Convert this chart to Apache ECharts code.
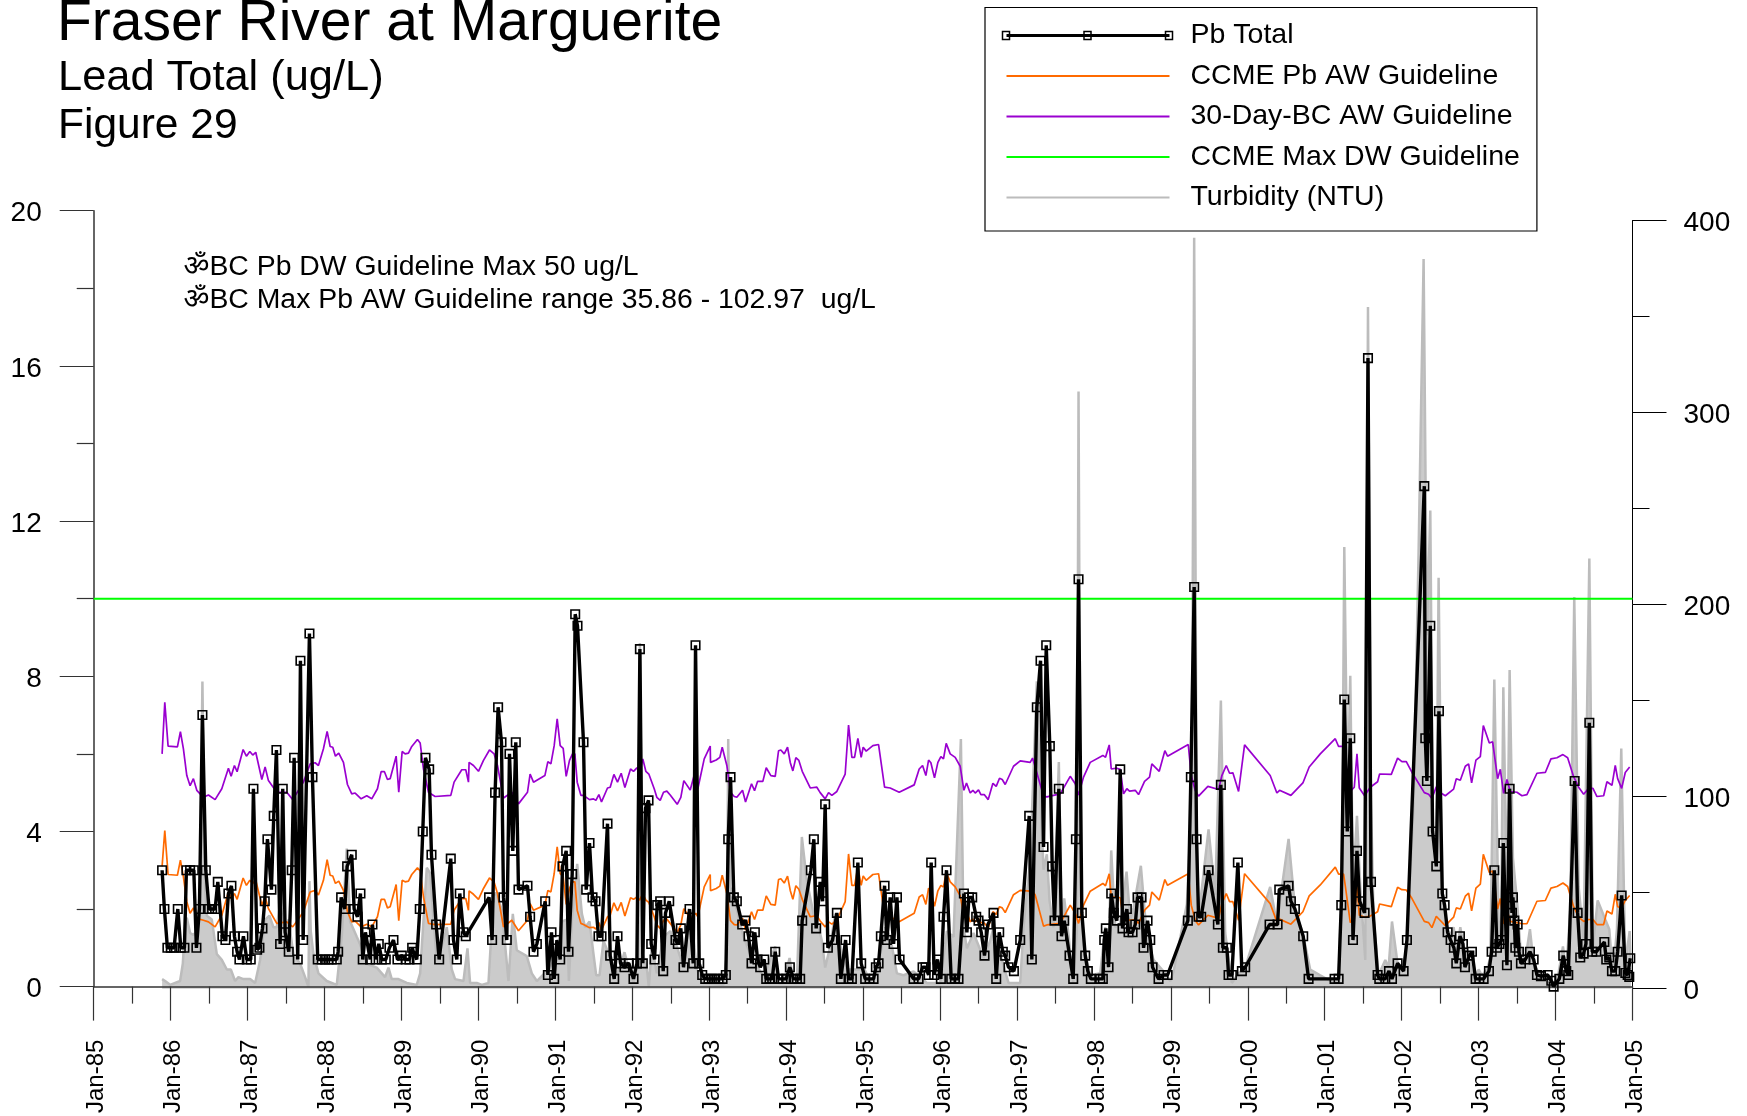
<!DOCTYPE html>
<html><head><meta charset="utf-8">
<style>html,body{margin:0;padding:0;background:#fff}#c{width:1747px;height:1116px}</style>
<script src="https://cdn.jsdelivr.net/npm/echarts@6/dist/echarts.min.js"></script>
</head><body><div id="c"></div>
<script>
const titleMain = 'Fraser River at Marguerite';
const titleSub = 'Lead Total (ug/L)';
const titleFig = 'Figure 29';
const noteDw = 'ॐBC Pb DW Guideline Max 50 ug/L';
const noteAw = 'ॐBC Max Pb AW Guideline range 35.86 - 102.97  ug/L';
const xTickLabels = ['Jan-85','Jan-86','Jan-87','Jan-88','Jan-89','Jan-90','Jan-91','Jan-92','Jan-93','Jan-94','Jan-95','Jan-96','Jan-97','Jan-98','Jan-99','Jan-00','Jan-01','Jan-02','Jan-03','Jan-04','Jan-05'];

// [decimal year, Pb ug/L]
const pbTotal = [[1985.889,3],[1985.919,2],[1985.958,1],[1986.002,1],[1986.045,1],[1986.093,2],[1986.132,1],[1986.179,1],[1986.205,3],[1986.253,3],[1986.301,3],[1986.335,1],[1986.374,2],[1986.413,7],[1986.457,3],[1986.5,2],[1986.539,2],[1986.578,2],[1986.613,2.7],[1986.673,1.3],[1986.712,1.2],[1986.751,2.4],[1986.79,2.6],[1986.829,1.3],[1986.864,.9],[1986.894,.7],[1986.946,1.3],[1986.99,.7],[1987.041,.7],[1987.076,5.1],[1987.124,.95],[1987.154,1],[1987.193,1.5],[1987.223,2.2],[1987.258,3.8],[1987.31,2.5],[1987.34,4.4],[1987.375,6.1],[1987.423,1.1],[1987.457,5.1],[1987.488,1.4],[1987.535,.9],[1987.574,3],[1987.605,5.9],[1987.652,.7],[1987.687,8.4],[1987.722,1.2],[1987.804,9.1],[1987.843,5.4],[1987.912,.7],[1987.964,.7],[1988.008,.7],[1988.051,.7],[1988.094,.7],[1988.159,.7],[1988.177,.9],[1988.216,2.3],[1988.263,2],[1988.294,3.1],[1988.354,3.4],[1988.385,2],[1988.428,1.8],[1988.467,2.4],[1988.497,.7],[1988.532,1.4],[1988.549,1.2],[1988.593,.7],[1988.623,1.6],[1988.665,.7],[1988.705,1.1],[1988.744,.7],[1988.796,.7],[1988.844,1],[1988.896,1.2],[1988.948,.7],[1989.004,.8],[1989.056,.7],[1989.104,.7],[1989.139,1],[1989.156,.9],[1989.199,.7],[1989.238,2],[1989.277,4],[1989.312,5.9],[1989.36,5.6],[1989.39,3.4],[1989.451,1.6],[1989.49,.7],[1989.641,3.3],[1989.676,1.2],[1989.719,.7],[1989.758,2.4],[1989.806,1.4],[1989.836,1.3],[1990.139,2.3],[1990.178,1.2],[1990.217,5],[1990.256,7.2],[1990.3,6.3],[1990.326,2.3],[1990.369,1.2],[1990.404,6],[1990.447,3.5],[1990.486,6.3],[1990.521,2.5],[1990.638,2.6],[1990.672,1.8],[1990.716,.9],[1990.76,1.1],[1990.868,2.2],[1990.903,.3],[1990.95,1.4],[1990.985,.2],[1991.02,1.2],[1991.063,.7],[1991.093,3.1],[1991.141,3.5],[1991.171,.9],[1991.219,2.9],[1991.258,9.6],[1991.288,9.3],[1991.366,6.3],[1991.401,2.5],[1991.444,3.7],[1991.483,2.3],[1991.522,2.2],[1991.561,1.3],[1991.6,1.3],[1991.678,4.2],[1991.713,.8],[1991.765,.2],[1991.808,1.3],[1991.847,.6],[1991.899,.5],[1991.955,.6],[1992.016,.2],[1992.06,.6],[1992.099,8.7],[1992.137,.6],[1992.172,4.6],[1992.211,4.8],[1992.246,1.1],[1992.289,.7],[1992.324,2.1],[1992.363,2.2],[1992.402,.4],[1992.432,1.9],[1992.48,2.2],[1992.562,1.2],[1992.592,1.1],[1992.631,1.5],[1992.666,.5],[1992.744,2],[1992.792,.6],[1992.822,8.8],[1992.87,.6],[1992.909,.3],[1992.948,.2],[1992.991,.2],[1993.034,.2],[1993.078,.2],[1993.121,.2],[1993.173,.2],[1993.216,.3],[1993.247,3.8],[1993.277,5.4],[1993.32,2.3],[1993.359,2.2],[1993.429,1.6],[1993.472,1.7],[1993.511,1.3],[1993.55,.6],[1993.593,1.4],[1993.628,.7],[1993.663,.5],[1993.715,.7],[1993.741,.2],[1993.784,.2],[1993.819,.2],[1993.858,.9],[1993.901,.2],[1993.953,.2],[1994,.2],[1994.048,.5],[1994.096,.2],[1994.139,.2],[1994.182,.2],[1994.208,1.7],[1994.321,3],[1994.36,3.8],[1994.39,1.5],[1994.442,2.7],[1994.473,2.2],[1994.507,4.7],[1994.542,1],[1994.603,1.2],[1994.659,1.9],[1994.711,.2],[1994.772,1.2],[1994.811,.2],[1994.854,.2],[1994.932,3.2],[1994.975,.6],[1995.027,.2],[1995.084,.2],[1995.136,.2],[1995.166,.5],[1995.201,.6],[1995.231,1.3],[1995.279,2.6],[1995.309,1.2],[1995.352,2.3],[1995.396,1.1],[1995.44,2.3],[1995.474,.7],[1995.656,.2],[1995.721,.2],[1995.773,.5],[1995.811,.5],[1995.851,.3],[1995.885,3.2],[1995.924,.3],[1995.967,.7],[1996.011,.2],[1996.045,1.8],[1996.084,3],[1996.145,.2],[1996.193,.2],[1996.24,.2],[1996.31,2.4],[1996.349,1.4],[1996.375,2.3],[1996.418,2.3],[1996.47,1.8],[1996.5,1.7],[1996.535,1.4],[1996.578,.8],[1996.622,1.6],[1996.695,1.9],[1996.73,.2],[1996.769,1.4],[1996.816,.9],[1996.847,.8],[1996.89,.5],[1996.96,.4],[1997.042,1.2],[1997.159,4.4],[1997.193,.7],[1997.258,7.2],[1997.306,8.4],[1997.345,3.6],[1997.38,8.8],[1997.427,6.2],[1997.458,3.1],[1997.488,1.7],[1997.544,5.1],[1997.579,1.3],[1997.614,1.7],[1997.683,.8],[1997.731,.2],[1997.766,3.8],[1997.8,10.5],[1997.843,1.9],[1997.887,.8],[1997.921,.4],[1997.96,.2],[1998.082,.2],[1998.116,.2],[1998.134,1.2],[1998.155,1.5],[1998.19,.5],[1998.225,2.4],[1998.259,1.9],[1998.298,1.7],[1998.342,5.6],[1998.372,1.5],[1998.428,2],[1998.45,1.4],[1998.502,1.4],[1998.537,1.6],[1998.567,2.3],[1998.619,2.3],[1998.645,1],[1998.697,1.7],[1998.732,1.2],[1998.762,.5],[1998.84,.2],[1998.905,.3],[1998.957,.3],[1999.221,1.7],[1999.26,5.4],[1999.303,10.3],[1999.334,3.8],[1999.36,1.8],[1999.394,1.8],[1999.49,3],[1999.611,1.6],[1999.65,5.2],[1999.676,1],[1999.728,1],[1999.75,.3],[1999.793,.3],[1999.871,3.2],[1999.923,.4],[1999.966,.5],[2000.283,1.6],[2000.387,1.6],[2000.409,2.5],[2000.53,2.6],[2000.56,2.2],[2000.612,2],[2000.72,1.3],[2000.79,.2],[2001.128,.2],[2001.18,.2],[2001.215,2.1],[2001.254,7.4],[2001.293,4],[2001.332,6.4],[2001.367,1.2],[2001.419,3.5],[2001.453,2.2],[2001.518,1.9],[2001.562,16.2],[2001.601,2.7],[2001.687,.3],[2001.709,.2],[2001.787,.2],[2001.835,.4],[2001.874,.2],[2001.947,.6],[2002.025,.4],[2002.068,1.2],[2002.294,12.9],[2002.307,6.4],[2002.328,5.3],[2002.372,9.3],[2002.402,4],[2002.45,3.1],[2002.484,7.1],[2002.528,2.4],[2002.558,2.1],[2002.597,1.4],[2002.636,1.2],[2002.679,1],[2002.71,.6],[2002.757,1.3],[2002.796,1.1],[2002.822,.5],[2002.879,.8],[2002.913,.9],[2002.961,.2],[2003.009,.2],[2003.065,.2],[2003.134,.4],[2003.169,.9],[2003.204,3],[2003.238,1],[2003.269,1.1],[2003.299,1.2],[2003.321,3.7],[2003.368,.55],[2003.403,5.1],[2003.433,1.9],[2003.446,2.3],[2003.464,1.7],[2003.477,1],[2003.507,1.6],[2003.524,.9],[2003.55,.6],[2003.607,.7],[2003.667,.9],[2003.715,.7],[2003.758,.3],[2003.81,.27],[2003.897,.3],[2003.945,.15],[2003.975,0],[2004.049,.2],[2004.1,.8],[2004.139,.4],[2004.165,.3],[2004.248,5.3],[2004.287,1.9],[2004.321,.75],[2004.365,.85],[2004.395,1.1],[2004.439,6.8],[2004.477,.9],[2004.53,.9],[2004.634,1.15],[2004.659,.7],[2004.698,.75],[2004.733,.4],[2004.776,.4],[2004.807,.9],[2004.859,2.35],[2004.907,.35],[2004.937,.3],[2004.958,.25],[2004.971,.73]];

// shared sample dates of the two hardness-based guidelines
const guideYears = [1985.889,1985.924,1985.967,1986.088,1986.127,1986.166,1986.21,1986.253,1986.296,1986.34,1986.426,1986.491,1986.578,1986.665,1986.751,1986.786,1986.829,1986.864,1986.942,1986.985,1987.029,1987.067,1987.106,1987.185,1987.228,1987.271,1987.379,1987.509,1987.587,1987.726,1987.813,1987.878,1987.921,1987.986,1988.034,1988.073,1988.107,1988.142,1988.185,1988.246,1988.298,1988.354,1988.398,1988.476,1988.549,1988.614,1988.688,1988.736,1988.779,1988.818,1988.853,1988.931,1988.965,1989.009,1989.047,1989.091,1989.134,1989.208,1989.243,1989.286,1989.351,1989.437,1989.641,1989.684,1989.784,1989.836,1989.871,1989.879,1989.936,1990.001,1990.066,1990.144,1990.204,1990.248,1990.326,1990.434,1990.521,1990.638,1990.672,1990.716,1990.864,1990.903,1990.942,1990.985,1991.024,1991.063,1991.102,1991.141,1991.184,1991.223,1991.254,1991.284,1991.332,1991.366,1991.444,1991.496,1991.527,1991.566,1991.6,1991.678,1991.713,1991.761,1991.808,1991.856,1991.904,1991.977,1992.016,1992.06,1992.094,1992.137,1992.176,1992.215,1992.285,1992.319,1992.363,1992.406,1992.449,1992.493,1992.584,1992.631,1992.67,1992.753,1992.826,1992.852,1992.935,1993.013,1993.017,1993.091,1993.138,1993.169,1993.229,1993.277,1993.325,1993.359,1993.433,1993.472,1993.55,1993.589,1993.628,1993.697,1993.741,1993.801,1993.858,1993.901,1993.931,1993.975,1994.018,1994.053,1994.087,1994.126,1994.165,1994.209,1994.313,1994.399,1994.442,1994.507,1994.551,1994.594,1994.659,1994.767,1994.811,1994.854,1994.889,1994.932,1994.975,1995.001,1995.04,1995.127,1995.201,1995.279,1995.352,1995.469,1995.664,1995.729,1995.773,1995.816,1995.851,1995.881,1995.928,1995.972,1996.011,1996.045,1996.08,1996.132,1996.197,1996.262,1996.31,1996.344,1996.392,1996.427,1996.457,1996.5,1996.531,1996.574,1996.626,1996.687,1996.73,1996.773,1996.808,1996.847,1996.955,1997.042,1997.172,1997.202,1997.237,1997.345,1997.388,1997.562,1997.692,1997.757,1997.8,1997.865,1997.952,1998.116,1998.151,1998.199,1998.225,1998.298,1998.342,1998.385,1998.428,1998.463,1998.537,1998.58,1998.658,1998.723,1998.753,1998.849,1998.922,1998.957,1999.226,1999.265,1999.316,1999.36,1999.481,1999.62,1999.663,1999.72,1999.763,1999.806,1999.88,1999.958,2000.291,2000.378,2000.413,2000.56,2000.716,2000.798,2000.942,2001.137,2001.18,2001.245,2001.267,2001.332,2001.384,2001.419,2001.449,2001.518,2001.592,2001.687,2001.713,2001.865,2001.947,2002.003,2002.06,2002.134,2002.294,2002.35,2002.393,2002.45,2002.48,2002.567,2002.675,2002.71,2002.762,2002.827,2002.87,2002.909,2002.965,2003.022,2003.061,2003.139,2003.182,2003.247,2003.282,2003.325,2003.368,2003.412,2003.498,2003.563,2003.628,2003.758,2003.867,2003.94,2004.018,2004.096,2004.157,2004.235,2004.3,2004.365,2004.43,2004.486,2004.538,2004.625,2004.668,2004.733,2004.776,2004.807,2004.824,2004.859,2004.906,2004.963];

const bc30Day = [6,7.33,6.2,6.18,6.57,6.13,5.44,5.18,5.36,5.06,4.88,4.94,4.82,5.1,5.63,5.42,5.7,5.54,6.11,5.94,6.06,5.97,6.04,5.34,5.66,5.31,5.01,5.01,4.82,5.27,5.74,5.77,5.7,6.13,6.58,6.19,6.17,5.94,6.02,5.78,5.21,4.97,4.99,4.84,4.92,4.84,5.1,5.54,5.54,5.34,5.36,5.94,5.01,6.06,6,6.02,6.19,6.37,6.28,5.61,5.01,4.9,4.93,5.27,5.59,5.59,5.27,5.78,5.7,5.55,5.83,6.1,6,5.7,4.86,5.01,4.71,5.01,5.48,5.27,5.44,5.8,5.74,6.21,6.9,6.21,6.14,5.42,5.83,6,6,5.27,4.93,4.93,4.82,4.84,4.8,4.95,4.76,5.12,5.14,5.47,5.27,5.5,5.13,5.61,5.55,5.64,5.53,5.87,5.55,5.48,5.1,4.88,4.8,5.01,5.04,4.94,4.7,4.88,5.31,5.07,5.61,5.1,5.87,6.2,5.78,5.84,5.91,6.17,5.7,5.01,4.9,4.88,5.06,4.76,5.23,5.05,5.29,5.29,5.64,5.44,5.42,6.08,6.1,6,6.17,5.78,5.56,5.9,5.83,5.55,5.12,5.14,5,4.84,5,4.93,5.03,5.48,6.74,5.91,5.91,6.4,5.91,6.17,6.07,6.21,6.24,5.14,5.12,5.01,5.2,5.61,5.7,5.44,5.84,5.77,5.38,5.78,5.93,5.87,6.27,6,5.91,5.68,5.06,5.25,4.99,5.06,4.99,5.07,4.95,4.95,4.82,5.24,5.16,5.37,5.34,5.21,5.68,5.82,5.78,5.89,5.66,4.91,4.89,4.97,5.42,5.23,4.94,5.4,5.78,5.96,5.91,6.23,5.61,5.63,5.6,4.97,5.1,5.04,5.06,4.95,5.29,5.4,5.74,5.55,6.08,5.94,6.24,5.44,5.06,4.91,5.16,5.08,5.44,5.7,5.5,5.51,5.03,6.23,5.44,4.99,5.06,4.93,5.25,5.66,6,6.39,6.19,6.19,5.84,5.03,5.14,6,5.12,4.92,5.14,5.28,5.48,5.47,5.89,5.8,5.8,5.52,5,4.96,4.85,5.15,5.03,4.92,5.09,5.36,5.32,5.68,5.74,5.25,5.84,5.93,6.73,6.28,6.31,5.36,5.6,4.98,5.34,5.03,5.01,4.92,4.95,5.5,5.52,5.87,5.9,5.98,5.9,5.41,5.14,4.96,5.11,5.11,4.9,4.92,5.28,5.19,5.7,5.36,5.41,5.11,5.52,5.66];

const ccmeAw = [3.1,4.02,2.89,2.87,3.26,2.83,2.19,1.89,2.03,1.76,1.71,1.67,1.54,1.84,2.44,2.27,2.4,2.25,2.8,2.61,2.74,2.66,2.74,2.1,2.31,2.01,1.63,1.67,1.54,1.93,2.44,2.48,2.36,2.74,3.27,2.87,2.85,2.66,2.72,2.48,1.93,1.67,1.69,1.54,1.61,1.54,1.8,2.25,2.25,2.03,2.06,2.63,1.7,2.74,2.7,2.72,2.89,3.06,2.98,2.31,1.63,1.6,1.61,1.97,2.27,2.27,1.97,2.47,2.38,2.25,2.53,2.8,2.7,2.4,1.54,1.71,1.44,1.71,2.14,1.97,2.1,2.48,2.44,2.91,3.6,2.91,2.83,2.12,2.53,2.7,2.7,1.97,1.63,1.6,1.52,1.53,1.48,1.65,1.46,1.8,1.84,2.16,1.95,2.17,1.82,2.29,2.25,2.31,2.23,2.4,2.23,2.17,1.8,1.59,1.5,1.71,1.74,1.63,1.4,1.59,2.01,1.76,1.89,1.8,2.57,2.89,2.47,2.53,2.59,2.87,2.4,1.7,1.6,1.59,1.76,1.46,1.93,1.73,1.97,1.97,2.34,2.12,2.1,2.76,2.78,2.67,2.85,2.48,2.25,2.6,2.51,2.25,1.8,1.83,1.69,1.54,1.67,1.61,1.71,2.19,3.42,2.61,2.61,3.08,2.61,2.85,2.74,2.89,2.91,1.84,1.8,1.67,1.89,2.31,2.37,2.12,2.54,2.44,2.07,2.47,2.61,2.57,2.96,2.7,2.57,2.34,1.83,1.95,1.67,1.74,1.67,1.76,1.65,1.64,1.52,1.93,1.86,2.06,2.03,1.91,2.37,2.48,2.46,2.46,2.36,1.56,1.59,1.63,2.1,1.89,1.63,2.1,2.46,2.66,2.6,2.91,2.31,2.31,2.29,1.67,1.77,1.71,1.73,1.63,1.97,2.1,2.44,2.23,2.76,2.61,2.91,2.1,1.71,1.59,1.84,1.76,2.14,2.4,2.19,2.19,1.71,2.91,2.14,1.67,1.74,1.61,1.93,2.34,2.62,3.08,2.9,2.9,2.6,1.65,1.79,2.6,1.84,1.79,1.82,1.93,2.13,2.06,2.56,2.5,2.49,2.27,1.68,1.65,1.52,1.81,1.75,1.57,1.79,2.03,2,2.33,2.41,1.95,2.54,2.64,3.41,2.94,2.98,2,2.27,1.62,1.98,1.68,1.65,1.62,1.62,2.2,2.22,2.54,2.58,2.67,2.58,2.06,1.79,1.68,1.73,1.73,1.6,1.6,1.95,1.87,2.38,2.06,2.11,2.03,2.22,2.35];

const ccmeMaxDw = [[1985,10],[2005,10]];

// [decimal year, NTU]
const turbidity = [[1985.889,5],[1985.928,4],[1985.993,2],[1986.123,4],[1986.158,13],[1986.188,33],[1986.21,37],[1986.253,29],[1986.296,28],[1986.34,30],[1986.383,53],[1986.413,160],[1986.448,53],[1986.47,38],[1986.535,36],[1986.6,18],[1986.665,15],[1986.73,10],[1986.782,10],[1986.838,4],[1986.881,6],[1986.946,5],[1987.033,5],[1987.098,3],[1987.163,15],[1987.228,36],[1987.284,38],[1987.336,32],[1987.379,32],[1987.423,44],[1987.488,29],[1987.531,36],[1987.596,18],[1987.683,13],[1987.748,6],[1987.791,1],[1987.804,56],[1987.821,30],[1987.856,18],[1987.921,8],[1988.029,4],[1988.159,2],[1988.224,27],[1988.289,73],[1988.333,35],[1988.419,27],[1988.463,23],[1988.549,13],[1988.679,11],[1988.787,6],[1988.831,11],[1988.874,5],[1988.961,5],[1989.069,3],[1989.199,2],[1989.243,8],[1989.329,63],[1989.373,60],[1989.416,36],[1989.459,15],[1989.546,25],[1989.589,32],[1989.654,10],[1989.697,5],[1989.806,4],[1989.858,21],[1989.892,3],[1989.979,3],[1990.044,2],[1990.131,3],[1990.196,48],[1990.23,50],[1990.304,41],[1990.361,17],[1990.391,4],[1990.447,39],[1990.499,20],[1990.629,17],[1990.694,8],[1990.759,4],[1990.933,11],[1991.02,18],[1991.085,35],[1991.15,36],[1991.176,4],[1991.215,36],[1991.284,65],[1991.345,39],[1991.388,32],[1991.444,35],[1991.496,18],[1991.531,7],[1991.574,7],[1991.626,25],[1991.713,16],[1991.756,6],[1991.843,11],[1991.899,19],[1991.951,11],[1992.016,3],[1992.06,13],[1992.099,180],[1992.137,18],[1992.189,11],[1992.215,1],[1992.254,22],[1992.319,8],[1992.406,27],[1992.493,30],[1992.579,22],[1992.666,11],[1992.753,41],[1992.839,10],[1992.926,3],[1993.186,2],[1993.229,18],[1993.247,130],[1993.273,53],[1993.316,48],[1993.446,27],[1993.533,18],[1993.706,6],[1993.858,22],[1993.901,3],[1993.966,3],[1994.044,16],[1994.096,3],[1994.139,3],[1994.204,79],[1994.269,56],[1994.356,39],[1994.399,36],[1994.464,25],[1994.507,11],[1994.572,22],[1994.637,39],[1994.724,18],[1994.789,10],[1994.941,10],[1995.006,11],[1995.093,4],[1995.179,8],[1995.287,32],[1995.352,27],[1995.439,8],[1995.526,7],[1995.656,9],[1995.829,3],[1996.002,3],[1996.089,30],[1996.175,27],[1996.271,130],[1996.305,32],[1996.349,21],[1996.435,29],[1996.565,16],[1996.652,25],[1996.695,32],[1996.782,18],[1996.89,3],[1997.042,3],[1997.085,32],[1997.172,67],[1997.258,160],[1997.302,102],[1997.345,62],[1997.388,70],[1997.423,46],[1997.475,32],[1997.544,118],[1997.583,27],[1997.614,47],[1997.67,28],[1997.731,3],[1997.778,30],[1997.8,311],[1997.826,60],[1997.865,23],[1997.952,7],[1998.082,8],[1998.147,32],[1998.19,18],[1998.225,72],[1998.277,32],[1998.342,34],[1998.424,61],[1998.472,36],[1998.515,42],[1998.61,64],[1998.688,27],[1998.775,15],[1998.862,11],[1998.927,8],[1998.992,4],[1999.035,9],[1999.208,44],[1999.273,100],[1999.303,391],[1999.334,90],[1999.36,37],[1999.49,83],[1999.576,49],[1999.65,150],[1999.706,29],[1999.793,3],[1999.88,8],[1999.966,11],[2000.291,53],[2000.378,34],[2000.53,78],[2000.616,41],[2000.724,27],[2000.811,10],[2000.941,7],[2001.115,3],[2001.18,4],[2001.224,60],[2001.254,230],[2001.297,96],[2001.332,163],[2001.367,53],[2001.419,90],[2001.462,53],[2001.527,15],[2001.562,355],[2001.6,100],[2001.635,37],[2001.7,7],[2001.787,15],[2001.83,11],[2001.874,35],[2001.947,13],[2002.025,11],[2002.068,24],[2002.155,96],[2002.22,228],[2002.285,380],[2002.328,184],[2002.372,249],[2002.406,77],[2002.45,64],[2002.48,214],[2002.523,53],[2002.588,31],[2002.632,28],[2002.675,32],[2002.719,20],[2002.762,32],[2002.805,22],[2002.87,18],[2002.935,4],[2003,10],[2003.043,7],[2003.108,10],[2003.152,16],[2003.204,161],[2003.26,35],[2003.29,22],[2003.321,157],[2003.368,42],[2003.403,166],[2003.446,68],[2003.498,46],[2003.542,22],[2003.607,15],[2003.667,31],[2003.715,13],[2003.802,7],[2003.932,4],[2004.018,3],[2004.096,22],[2004.139,9],[2004.191,41],[2004.243,204],[2004.3,53],[2004.365,26],[2004.439,224],[2004.486,22],[2004.547,46],[2004.646,36],[2004.698,31],[2004.746,7],[2004.798,31],[2004.854,125],[2004.906,13],[2004.963,30],[2004.98,9]];

const FONT = '"Liberation Sans", Arial, sans-serif';
const pair = (xs, ys) => xs.map((x, i) => [x, ys[i]]);

const tickAxis = (extra, color = '#333', w = 1.5, tw = 1.2) => Object.assign({
  z: 3,
  axisLine: {show: true, lineStyle: {color, width: w}},
  axisTick: {show: true, length: 34, lineStyle: {color, width: tw}},
  minorTick: {show: true, splitNumber: 2, length: 17, lineStyle: {color, width: tw}},
  splitLine: {show: false}, minorSplitLine: {show: false}
}, extra);

const legendMarker = (cx) => ({type: 'rect', shape: {x: cx - 3.5, y: 31.4, width: 7, height: 8},
  style: {fill: 'transparent', stroke: '#000', lineWidth: 1.5}, z: 100});

const chart = echarts.init(document.getElementById('c'), null, {renderer: 'canvas'});
chart.setOption({
  animation: false,
  backgroundColor: '#fff',
  textStyle: {fontFamily: FONT, color: '#000'},
  title: [
    {text: titleMain, left: 57, top: -4, padding: 0, textStyle: {fontFamily: FONT, fontSize: 57, fontWeight: 'normal', color: '#000'}},
    {text: titleSub, left: 58, top: 57, padding: 0, textStyle: {fontFamily: FONT, fontSize: 43.4, fontWeight: 'normal', color: '#000'}},
    {text: titleFig, left: 58, top: 105, padding: 0, textStyle: {fontFamily: FONT, fontSize: 42.5, fontWeight: 'normal', color: '#000'}},
    {text: noteDw, left: 183.5, top: 253.5, padding: 0, textStyle: {fontFamily: FONT + ', "Noto Sans"', fontSize: 28.4, fontWeight: 'normal', color: '#000'}},
    {text: noteAw, left: 183.5, top: 286.5, padding: 0, textStyle: {fontFamily: FONT + ', "Noto Sans"', fontSize: 28.4, fontWeight: 'normal', color: '#000'}}
  ],
  grid: [
    {left: 93.7, width: 1538.8, top: 210.7, height: 778},
    {left: 93.7, width: 1538.8, top: 220.5, height: 768.2}
  ],
  xAxis: [
    tickAxis({type: 'value', gridIndex: 0, min: 1985, max: 2005, interval: 1,
      axisLabel: {rotate: 90, margin: 53, fontSize: 24, color: '#000', fontFamily: FONT, verticalAlign: 'top', lineHeight: 6,
        formatter: v => xTickLabels[Math.round(v - 1985)]}}),
    {type: 'value', gridIndex: 1, min: 1985, max: 2005, show: false}
  ],
  yAxis: [
    tickAxis({type: 'value', gridIndex: 0, min: 0, max: 20, interval: 4,
      axisLabel: {margin: 52, fontSize: 28, color: '#000', fontFamily: FONT, verticalAlign: 'top', lineHeight: 6}}),
    tickAxis({type: 'value', gridIndex: 1, position: 'right', min: 0, max: 400, interval: 100,
      axisLabel: {margin: 51, fontSize: 28, color: '#000', fontFamily: FONT, verticalAlign: 'top', lineHeight: 6}}, '#000', 1, 1)
  ],
  legend: {
    left: 985, top: 7.5, orient: 'vertical', align: 'left',
    padding: [13.5, 17, 19, 20], itemWidth: 163, itemHeight: 28, itemGap: 11.5,
    borderColor: '#000', borderWidth: 1.2, backgroundColor: 'transparent',
    itemStyle: {opacity: 0},
    textStyle: {fontFamily: FONT, fontSize: 28.5, color: '#000', padding: [5, 0, 0, 16]},
    data: [{name: 'Pb Total', lineStyle: {width: 3}}, 'CCME Pb AW Guideline', '30-Day-BC AW Guideline', 'CCME Max DW Guideline', 'Turbidity (NTU)']
  },
  series: [
    {name: 'Turbidity (NTU)', type: 'line', xAxisIndex: 1, yAxisIndex: 1, data: turbidity, z: 1,
      symbol: 'none', lineStyle: {color: '#bcbcbc', width: 2.5}, itemStyle: {color: '#bcbcbc'},
      areaStyle: {color: '#cbcbcb', opacity: 1}},
    {name: 'CCME Pb AW Guideline', type: 'line', xAxisIndex: 0, yAxisIndex: 0, data: pair(guideYears, ccmeAw), z: 4,
      symbol: 'none', lineStyle: {color: '#ff6a00', width: 1.7}, itemStyle: {color: '#ff6a00'}},
    {name: '30-Day-BC AW Guideline', type: 'line', xAxisIndex: 0, yAxisIndex: 0, data: pair(guideYears, bc30Day), z: 4,
      symbol: 'none', lineStyle: {color: '#9a00d0', width: 1.7}, itemStyle: {color: '#9a00d0'}},
    {name: 'CCME Max DW Guideline', type: 'line', xAxisIndex: 0, yAxisIndex: 0, data: ccmeMaxDw, z: 5,
      symbol: 'none', lineStyle: {color: '#00ff00', width: 2}, itemStyle: {color: '#00ff00'}},
    {name: 'Pb Total', type: 'line', xAxisIndex: 0, yAxisIndex: 0, data: pbTotal, z: 6, clip: false,
      showSymbol: true, showAllSymbol: true, symbol: 'rect', symbolSize: 8.5,
      lineStyle: {color: '#000', width: 3.4},
      itemStyle: {color: 'transparent', borderColor: '#000', borderWidth: 1.6}}
  ],
  graphic: [legendMarker(1006), legendMarker(1087.5), legendMarker(1169)]
});
</script></body></html>
